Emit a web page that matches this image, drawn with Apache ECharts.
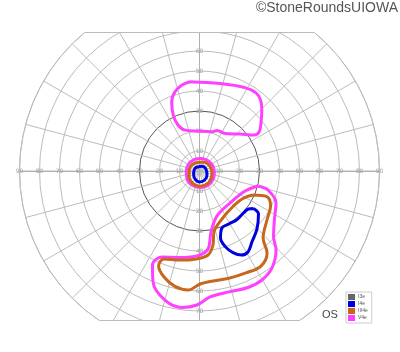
<!DOCTYPE html>
<html><head><meta charset="utf-8">
<script src="https://cdn.jsdelivr.net/npm/echarts@6/dist/echarts.min.js"></script>
<style>html,body{margin:0;padding:0;background:#fff}#c{width:400px;height:352px}</style>
</head><body><div id="c"></div>
<script>
// Isopter data: [eccentricity (deg), meridian angle (deg)]
const isopterNames = ['I3e', 'I4e', 'III4e', 'V4e'];
const isopterColors = ['#666666', '#0000e0', '#c8661c', '#ff40ff'];

const v4eSuperior = [[44.9,96.1],[44.9,76.8],[47.5,61.4],[48.2,54.1],[46.8,49.3],[43.6,44.4],[39.0,38.0],[35.6,33.2],[32.7,33.4],[27.4,42.4],[22.7,55.8],[22.1,66.6],[20.6,72.4],[20.0,92.1],[21.7,109.5],[25.4,115.1],[30.9,115.1],[37.3,111.9],[41.5,107.2],[43.9,101.5],[44.9,96.1]];
const v4eCentral = [[7.5,0],[7.0,30],[6.5,60],[6.2,90],[6.3,120],[6.5,150],[6.6,180],[7.3,210],[8.0,240],[8.3,270],[8.4,300],[8.0,330],[7.5,360]];
const v4eInferior = [[30.3,345.7],[35.5,344.5],[41.5,337.3],[44.3,327.9],[49.5,318.4],[55.0,314.1],[60.5,306.8],[62.8,299.8],[63.1,292.6],[62.2,284.2],[63.2,274.8],[67.0,268.9],[68.8,262.7],[66.8,255.0],[60.2,247.3],[52.5,243.4],[46.9,246.4],[44.3,257.3],[42.3,269.0],[39.2,276.2],[31.0,280.7],[24.1,291.3],[22.1,313.6],[24.9,336.3],[30.3,345.7]];

const iii4eCentral = [[6.2,0],[5.6,30],[5.0,60],[4.4,90],[4.6,120],[5.0,150],[5.2,180],[6.0,210],[7.0,240],[7.6,270],[7.5,300],[6.8,330],[6.2,360]];
const iii4eInferior = [[29.3,335.8],[36.0,339.1],[39.6,333.8],[41.7,324.0],[46.2,313.5],[53.1,309.5],[56.6,302.9],[56.0,294.5],[55.6,284.8],[55.5,275.4],[56.5,270.3],[59.8,264.5],[59.0,258.0],[55.9,251.5],[51.7,246.7],[47.4,248.0],[45.6,257.6],[44.0,267.7],[42.2,275.8],[37.6,280.3],[31.3,283.4],[26.5,295.1],[24.4,313.3],[25.7,327.7],[29.3,335.8]];

const i4eCentral = [[3.6,0],[3.2,30],[2.7,60],[2.2,90],[2.3,120],[2.6,150],[2.8,180],[3.4,210],[4.5,240],[5.5,270],[5.2,300],[4.3,330],[3.6,360]];
const i4eInferior = [[32.9,325.2],[36.5,323.9],[40.8,314.8],[44.0,306.7],[47.2,300.9],[47.0,296.6],[44.1,292.3],[39.8,288.7],[35.1,287.4],[30.6,291.5],[30.3,299.1],[30.7,307.7],[30.4,316.3],[31.0,322.2],[32.9,325.2]];

const ringLabels = [10,20,30,40,50,60,70,80,90];

const CX = 199.5, CY = 171, R = 180, TOPY = 32.5, BOTY = 320.5;
const GRID = '#bcbcbc';

const chart = echarts.init(document.getElementById('c'), null, {renderer:'canvas'});

const ringColors = [GRID,GRID,GRID,'#555555',GRID,GRID,GRID,GRID,GRID,GRID];

const polars = [0,1,2,3].map(()=>({center:[CX,CY], radius:R}));
const starts = [0,90,180,270];
const angleAxes = starts.map((s,i)=>({
  polarIndex:i, type:'value', min:0, max:360, interval:15, startAngle:s, clockwise:false,
  axisLine:{show:i===0, lineStyle:{color:GRID, width:1}},
  axisTick:{show:false}, axisLabel:{show:false},
  splitLine:{show:i===0, lineStyle:{color:GRID, width:1}}
}));
const radiusAxes = starts.map((s,i)=>({
  polarIndex:i, type:'value', min:0, max:90, interval:10,
  axisLine:{show:true, lineStyle:{color:'#b0b0b0', width:1}},
  axisTick:{show:false},
  axisLabel:{show:true, margin:0, fontSize:6, fontFamily:'"DejaVu Sans", sans-serif', color:'#a0a0a0', align:'center', verticalAlign:'middle',
    hideOverlap:false,
    formatter:(v)=> ringLabels.indexOf(v) >= 0 ? String(v) : ''},
  splitLine:{show:i===0, lineStyle:{color:ringColors, width:1}}
}));

function loop(name, data){
  const idx = isopterNames.indexOf(name);
  return {name:name, type:'line', coordinateSystem:'polar', polarIndex:0, data:data,
    symbol:'none', smooth:0.35, z:5,
    lineStyle:{color:isopterColors[idx], width:3}, itemStyle:{color:isopterColors[idx]}};
}

const series = [
  {name:'I3e', type:'line', coordinateSystem:'polar', polarIndex:0, data:[], symbol:'none', itemStyle:{color:isopterColors[0]}, lineStyle:{color:isopterColors[0]}},
  loop('V4e', v4eSuperior), loop('V4e', v4eCentral), loop('V4e', v4eInferior),
  loop('III4e', iii4eCentral), loop('III4e', iii4eInferior),
  loop('I4e', i4eCentral), loop('I4e', i4eInferior)
];

const dTop = Math.sqrt(R*R - (CY-TOPY)*(CY-TOPY));
const dBot = Math.sqrt(R*R - (BOTY-CY)*(BOTY-CY));

chart.setOption({
  animation:false,
  backgroundColor:'#ffffff',
  polar: polars,
  angleAxis: angleAxes,
  radiusAxis: radiusAxes,
  legend:{
    data:isopterNames, orient:'vertical', left:346, top:292,
    itemWidth:7, itemHeight:6, itemGap:1, icon:'rect',
    padding:[2,4,2,2], borderColor:'#cccccc', borderWidth:1, backgroundColor:'#fff',
    textStyle:{fontSize:5, color:'#555', padding:[0,0,0,-2]},
    selectedMode:false, z:300
  },
  series: series,
  graphic:[
    {type:'rect', z:100, shape:{x:0,y:0,width:400,height:TOPY}, style:{fill:'#fff'}},
    {type:'rect', z:100, shape:{x:0,y:BOTY,width:400,height:352-BOTY}, style:{fill:'#fff'}},
    {type:'line', z:101, shape:{x1:CX-dTop,y1:TOPY,x2:CX+dTop,y2:TOPY}, style:{stroke:GRID, lineWidth:1}},
    {type:'line', z:101, shape:{x1:CX-dBot,y1:BOTY,x2:CX+dBot,y2:BOTY}, style:{stroke:GRID, lineWidth:1}},
    {type:'text', z:102, right:2, top:1, style:{text:'©StoneRoundsUIOWA', font:'14px "Liberation Sans", Arial, sans-serif', fill:'#555'}},
    {type:'text', z:102, left:322, top:309, style:{text:'OS', font:'11px "Liberation Sans", Arial, sans-serif', fill:'#444'}}
  ]
});
</script></body></html>
